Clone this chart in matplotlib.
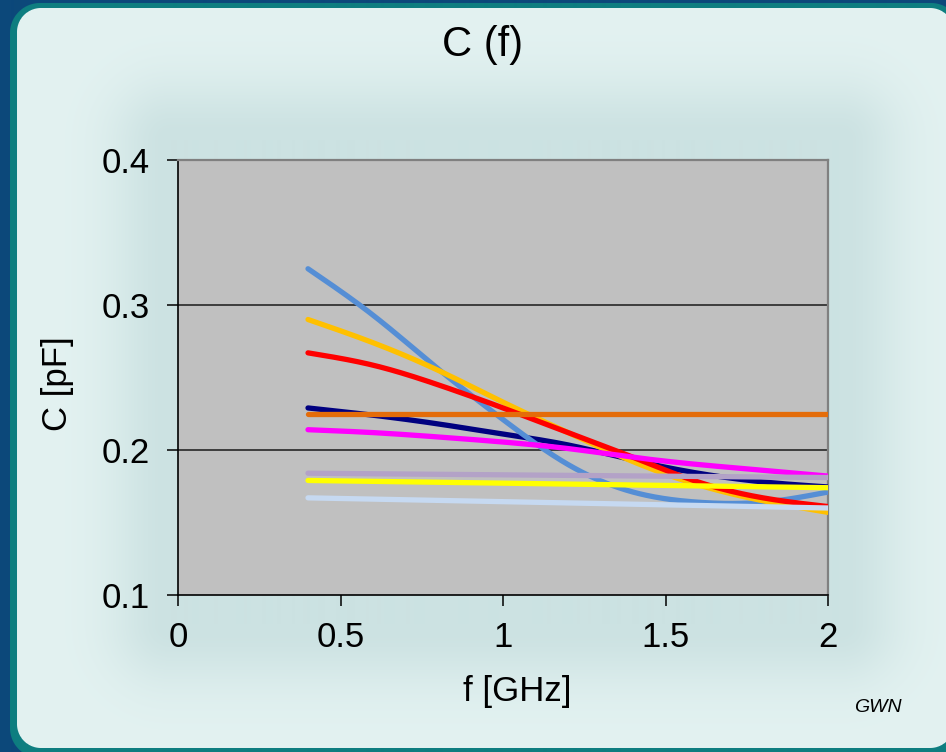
import numpy as np
import matplotlib
matplotlib.use("Agg")
import matplotlib.pyplot as plt

plt.rcParams["font.family"] = ["Liberation Sans", "DejaVu Sans"]

# Capacitance versus frequency, one curve per device
freq = [0.4, 0.6, 0.8, 1.0, 1.2, 1.4, 1.6, 1.8, 2.0]
c_blue = [0.325, 0.293, 0.256, 0.221, 0.190, 0.171, 0.164, 0.164, 0.171]
c_gold = [0.290, 0.274, 0.255, 0.233, 0.212, 0.192, 0.176, 0.165, 0.157]
c_red = [0.267, 0.2585, 0.245, 0.229, 0.212, 0.195, 0.178, 0.167, 0.161]
c_navy = [0.229, 0.224, 0.218, 0.211, 0.2035, 0.193, 0.184, 0.178, 0.1745]
c_magenta = [0.214, 0.212, 0.209, 0.2055, 0.201, 0.195, 0.190, 0.186, 0.182]

# nearly flat curves
freq_flat = [0.4, 1.2, 2.0]
c_orange = [0.225, 0.225, 0.225]
c_lavender = [0.184, 0.1825, 0.181]
c_yellow = [0.179, 0.1765, 0.174]
c_paleblue = [0.167, 0.1635, 0.160]

x_ticks = [0, 0.5, 1, 1.5, 2]
x_tick_labels = ["0", "0.5", "1", "1.5", "2"]
y_ticks = [0.1, 0.2, 0.3, 0.4]
y_tick_labels = ["0.1", "0.2", "0.3", "0.4"]

W, H = 946, 752


def smooth(x, y, n=30):
    """Natural cubic spline through the given points."""
    x = np.asarray(x, float)
    y = np.asarray(y, float)
    k = len(x)
    if k < 3:
        return x, y
    h = np.diff(x)
    A = np.zeros((k, k))
    b = np.zeros(k)
    A[0, 0] = A[-1, -1] = 1.0
    for i in range(1, k - 1):
        A[i, i - 1] = h[i - 1]
        A[i, i] = 2 * (h[i - 1] + h[i])
        A[i, i + 1] = h[i]
        b[i] = 6 * ((y[i + 1] - y[i]) / h[i] - (y[i] - y[i - 1]) / h[i - 1])
    M = np.linalg.solve(A, b)
    xs, ys = [], []
    for i in range(k - 1):
        t = np.linspace(x[i], x[i + 1], n, endpoint=False)
        a = x[i + 1] - t
        c = t - x[i]
        s = (M[i] * a ** 3 + M[i + 1] * c ** 3) / (6 * h[i]) \
            + (y[i] / h[i] - M[i] * h[i] / 6) * a \
            + (y[i + 1] / h[i] - M[i + 1] * h[i] / 6) * c
        xs.append(t)
        ys.append(s)
    xs.append([x[-1]])
    ys.append([y[-1]])
    return np.concatenate(xs), np.concatenate(ys)


def rounded_rect_mask(xx, yy, x0, y0, x1, y1, r):
    cx = np.clip(xx, x0 + r, x1 - r)
    cy = np.clip(yy, y0 + r, y1 - r)
    d = np.hypot(xx - cx, yy - cy) - r
    return np.clip(0.5 - d, 0, 1)


# ---- slide background: blue frame, teal border, pale panel with soft shadow
yy, xx = np.mgrid[0:H, 0:W] + 0.5
blue = np.array([12, 72, 122]) / 255
teal = np.array([14, 126, 128]) / 255
light = np.array([227, 242, 241]) / 255
shade = np.array([204, 226, 226]) / 255

img = np.zeros((H, W, 3))
img[:] = blue
m_outer = rounded_rect_mask(xx, yy, 10, 3, 960, 758, 30)[..., None]
img = img * (1 - m_outer) + teal * m_outer

# soft glow behind the chart area
sx0, sy0, sx1, sy1 = 170, 140, 840, 625
dx = np.maximum(np.maximum(sx0 - xx, xx - sx1), 0)
dy = np.maximum(np.maximum(sy0 - yy, yy - sy1), 0)
dist = np.hypot(dx, dy)
s = np.exp(-0.5 * (dist / 42) ** 2)[..., None]
panel = light * (1 - s) + shade * s
m_inner = rounded_rect_mask(xx, yy, 17, 8, 953, 748, 24)[..., None]
img = img * (1 - m_inner) + panel * m_inner

fig = plt.figure(figsize=(W / 100, H / 100), dpi=100)
bg = fig.add_axes([0, 0, 1, 1])
bg.imshow(img, extent=(0, W, H, 0), interpolation="bilinear", aspect="auto")
bg.set_xlim(0, W)
bg.set_ylim(H, 0)
bg.axis("off")

# ---- chart
ax = fig.add_axes([178 / W, 1 - 595 / H, 650 / W, 435 / H])
ax.set_facecolor("#C0C0C0")
ax.set_xlim(0, 2)
ax.set_ylim(0.1, 0.4)

for yv in [0.2, 0.3]:
    ax.axhline(yv, color="#1a1a1a", lw=1.1, zorder=1)

lw = 3.8
series = [
    (freq, c_navy, "#000080"),
    (freq, c_blue, "#558ED5"),
    (freq, c_gold, "#FFC000"),
    (freq, c_red, "#FF0000"),
    (freq, c_magenta, "#FF00FF"),
    (freq_flat, c_orange, "#E46C0A"),
    (freq_flat, c_lavender, "#B3A2C7"),
    (freq_flat, c_yellow, "#FFFF00"),
    (freq_flat, c_paleblue, "#C6D9F1"),
]
for i, (xs, ys, col) in enumerate(series):
    sx, sy = smooth(xs, ys)
    ax.plot(sx, sy, color=col, lw=lw, solid_capstyle="round",
            solid_joinstyle="round", zorder=3 + i)

ax.set_xticks(x_ticks)
ax.set_xticklabels(x_tick_labels)
ax.set_yticks(y_ticks)
ax.set_yticklabels(y_tick_labels)
ax.tick_params(axis="both", direction="out", length=8, width=1.1,
               color="black", labelsize=25, labelcolor="black")
ax.tick_params(axis="x", pad=11)
ax.tick_params(axis="y", pad=12)

for side in ["left", "bottom"]:
    ax.spines[side].set_color("black")
    ax.spines[side].set_linewidth(1.2)
for side in ["top", "right"]:
    ax.spines[side].set_color("#808080")
    ax.spines[side].set_linewidth(1.6)

fig.text(483 / W, 1 - 45 / H, "C (f)", ha="center", va="center",
         fontsize=30, color="black")
fig.text(517 / W, 1 - 692 / H, "f [GHz]", ha="center", va="center",
         fontsize=25, color="black")
fig.text(57 / W, 1 - 384 / H, "C [pF]", ha="center", va="center",
         rotation=90, fontsize=25, color="black")
fig.text(878 / W, 1 - 707 / H, "GWN", ha="center", va="center",
         fontsize=14, style="italic", color="black")

fig.savefig("out.png", dpi=100)
